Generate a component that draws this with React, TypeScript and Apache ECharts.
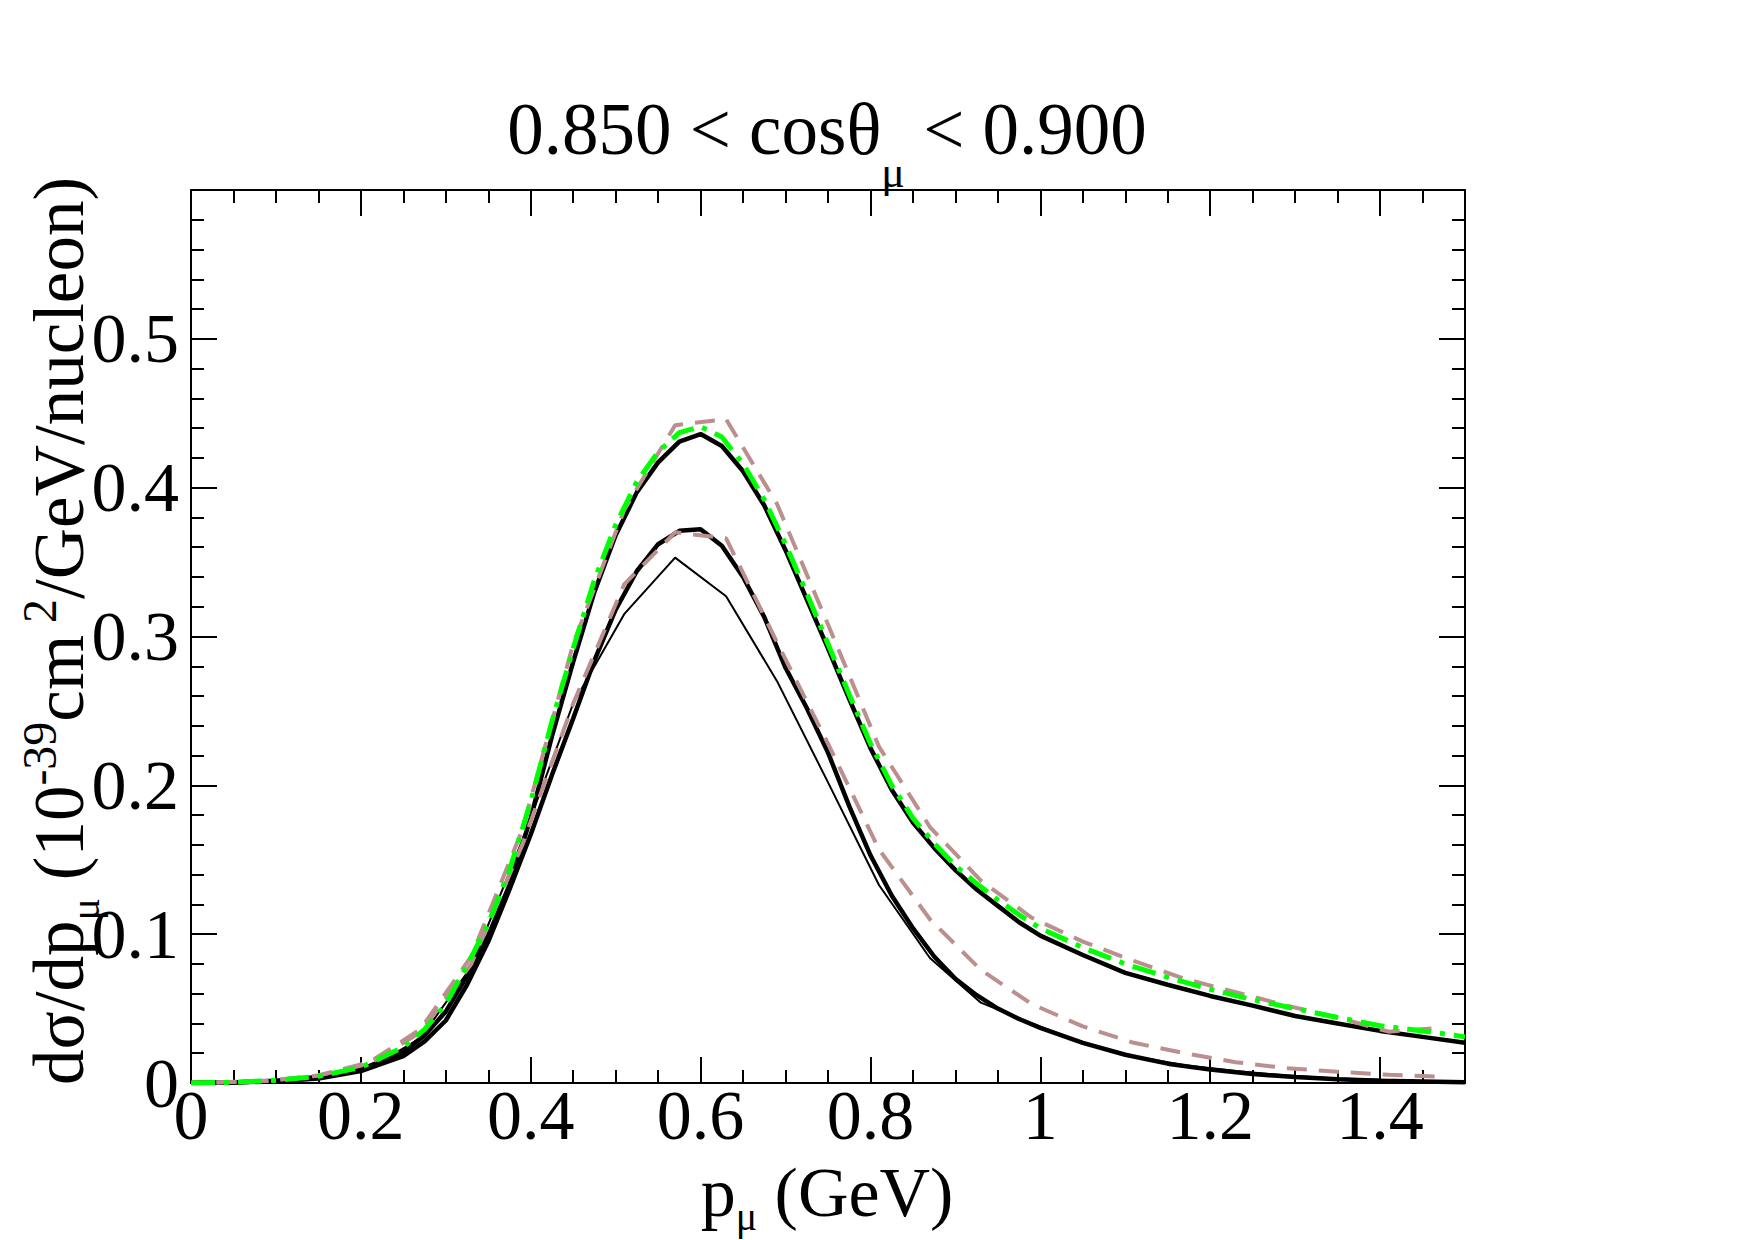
import React, { useEffect, useRef } from 'react';
import * as echarts from 'echarts';

// momentum grid (GeV) for the smooth curves
const smoothP = [0, 0.05, 0.1, 0.15, 0.2, 0.25, 0.275, 0.3, 0.325, 0.35, 0.375, 0.4, 0.425, 0.45, 0.475, 0.5, 0.525, 0.55, 0.575, 0.6, 0.625, 0.65, 0.675, 0.7, 0.725, 0.75, 0.775, 0.8, 0.825, 0.85, 0.875, 0.9, 0.925, 0.95, 0.975, 1.0, 1.05, 1.1, 1.15, 1.2, 1.25, 1.3, 1.35, 1.4, 1.45, 1.5];

const upperBlack = [0, 0.0004, 0.0015, 0.004, 0.009, 0.021, 0.032, 0.048, 0.072, 0.099, 0.133, 0.178, 0.233, 0.283, 0.33, 0.368, 0.397, 0.417, 0.431, 0.436, 0.428, 0.411, 0.388, 0.358, 0.325, 0.292, 0.258, 0.225, 0.197, 0.175, 0.158, 0.143, 0.13, 0.119, 0.108, 0.099, 0.086, 0.074, 0.066, 0.0585, 0.052, 0.045, 0.04, 0.035, 0.031, 0.027];

const lowerBlack = [0, 0.0003, 0.0012, 0.003, 0.008, 0.018, 0.028, 0.042, 0.066, 0.095, 0.13, 0.167, 0.207, 0.245, 0.284, 0.318, 0.344, 0.362, 0.371, 0.372, 0.361, 0.34, 0.313, 0.279, 0.252, 0.222, 0.186, 0.153, 0.126, 0.104, 0.085, 0.07, 0.059, 0.05, 0.043, 0.037, 0.027, 0.019, 0.013, 0.009, 0.006, 0.004, 0.0025, 0.0015, 0.001, 0.0005];

const upperGreen = [0, 0.0005, 0.0018, 0.0045, 0.0105, 0.024, 0.036, 0.053, 0.079, 0.107, 0.143, 0.189, 0.243, 0.292, 0.338, 0.375, 0.404, 0.424, 0.437, 0.441, 0.434, 0.416, 0.392, 0.362, 0.329, 0.295, 0.261, 0.228, 0.2, 0.178, 0.161, 0.146, 0.134, 0.123, 0.113, 0.104, 0.091, 0.08, 0.071, 0.063, 0.056, 0.05, 0.044, 0.0385, 0.035, 0.031];

// momentum grid (GeV) for the coarse curves
const coarseP = [0.03, 0.09, 0.15, 0.21, 0.27, 0.33, 0.39, 0.45, 0.51, 0.57, 0.63, 0.69, 0.75, 0.81, 0.87, 0.93, 0.99, 1.05, 1.11, 1.17, 1.23, 1.29, 1.35, 1.41, 1.47];

const upperBrown = [0.0003, 0.0015, 0.005, 0.014, 0.036, 0.085, 0.17, 0.295, 0.385, 0.442, 0.446, 0.389, 0.308, 0.226, 0.172, 0.136, 0.111, 0.095, 0.082, 0.07, 0.061, 0.052, 0.044, 0.0345, 0.037];

const lowerBrown = [0.0003, 0.0015, 0.005, 0.013, 0.034, 0.08, 0.16, 0.255, 0.335, 0.37, 0.366, 0.296, 0.228, 0.157, 0.11, 0.076, 0.053, 0.038, 0.027, 0.02, 0.014, 0.01, 0.0075, 0.0055, 0.0042];

const thinBlack = [0.0002, 0.001, 0.003, 0.01, 0.03, 0.078, 0.163, 0.255, 0.315, 0.353, 0.327, 0.27, 0.202, 0.133, 0.084, 0.054, 0.04, 0.027, 0.018, 0.012, 0.008, 0.005, 0.003, 0.002, 0.001];

// text pieces: [text, kind] where kind is 'm' (main), 's' (subscript), 'u' (superscript)
const titlePieces: [string, string][] = [['0.850 < cosθ', 'm'], ['μ', 's'], [' < 0.900', 'm']];
const xTitlePieces: [string, string][] = [['p', 'm'], ['μ', 's'], [' (GeV)', 'm']];
const yTitlePieces: [string, string][] = [
  ['dσ/dp', 'm'], ['μ', 's'], [' (10', 'm'], ['-39', 'u'], ['cm', 'm'], [' 2', 'u'], ['/GeV/nucleon)', 'm'],
];

const FAMILY = 'Liberation Serif';
const FONT = '"Liberation Serif", "Times New Roman", serif';
const CENTRAL = 0.3375; // distance from alphabetic baseline to central baseline, in em

const pairs = (xs: number[], ys: number[]) => xs.map((x, i) => [x, ys[i]]);
const fmt = (v: number) => String(Math.round(v * 1000) / 1000);

function makeAxis(pos: string, interval: number, tickLen: number, withLine: boolean, withLabel: boolean, isX: boolean) {
  return {
    type: 'value',
    position: pos,
    min: 0,
    max: isX ? 1.5 : 0.6,
    interval,
    axisLine: { show: withLine, onZero: false, lineStyle: { color: '#000', width: 2 } },
    axisTick: { show: true, inside: true, length: tickLen, lineStyle: { color: '#000', width: 2 } },
    axisLabel: withLabel
      ? {
          show: true,
          margin: isX ? 0 : 12,
          color: '#000',
          fontFamily: FONT,
          fontSize: 70,
          lineHeight: 64,
          showMaxLabel: false,
          formatter: fmt,
        }
      : { show: false },
    splitLine: { show: false },
    minorTick: { show: false },
  };
}

let measureCtx: CanvasRenderingContext2D | null = null;
function measure(text: string, size: number) {
  if (!measureCtx) measureCtx = document.createElement('canvas').getContext('2d');
  if (!measureCtx) return text.length * size * 0.5;
  measureCtx.font = `${size}px "${FAMILY}"`;
  return measureCtx.measureText(text).width;
}

// Build a group of text pieces laid out along a baseline (local y = 0), centred on local x = 0.
function textLine(
  pieces: [string, string][],
  sizes: { m: number; s: number; u: number },
  offsets: { s: number; u: number },
  cx: number,
  cy: number,
  rotation: number,
) {
  const widths = pieces.map(([t, k]) => measure(t, (sizes as any)[k]));
  const total = widths.reduce((a, b) => a + b, 0);
  let x = -total / 2;
  const children = pieces.map(([t, k], i) => {
    const size = (sizes as any)[k];
    const dy = k === 's' ? offsets.s : k === 'u' ? offsets.u : 0;
    const el = {
      type: 'text',
      x,
      y: dy - CENTRAL * size,
      style: {
        text: t,
        fontFamily: FONT,
        fontSize: size,
        lineHeight: Math.round(size * (k === 'm' ? 0.75 : 0.5)),
        fill: '#000',
        align: 'left',
        verticalAlign: 'middle',
      },
    };
    x += widths[i];
    return el;
  });
  return { type: 'group', x: cx, y: cy, rotation, children };
}

export default function App() {
  const ref = useRef<HTMLDivElement>(null);
  useEffect(() => {
    if (!ref.current) return;
    const chart = echarts.init(ref.current, undefined, { renderer: 'svg' });
    const line = (data: number[][], color: string, width: number, type: any) => ({
      type: 'line',
      data,
      xAxisIndex: 0,
      yAxisIndex: 0,
      symbol: 'none',
      showSymbol: false,
      smooth: false,
      clip: true,
      lineStyle: { color, width, type },
      emphasis: { disabled: true },
    });
    chart.setOption({
      animation: false,
      backgroundColor: '#fff',
      grid: { left: 191, right: 290, top: 190, bottom: 157, containLabel: false, show: false },
      xAxis: [
        makeAxis('bottom', 0.2, 26, true, true, true),
        makeAxis('bottom', 0.05, 13, false, false, true),
        makeAxis('top', 0.2, 26, true, false, true),
        makeAxis('top', 0.05, 13, false, false, true),
      ],
      yAxis: [
        makeAxis('left', 0.1, 26, true, true, false),
        makeAxis('left', 0.02, 13, false, false, false),
        makeAxis('right', 0.1, 26, true, false, false),
        makeAxis('right', 0.02, 13, false, false, false),
      ],
      series: [
        line(pairs(smoothP, upperBlack), '#000', 4.5, 'solid'),
        line(pairs(smoothP, lowerBlack), '#000', 4.5, 'solid'),
        line(pairs(coarseP, thinBlack), '#000', 2, 'solid'),
        line(pairs(coarseP, lowerBrown), '#bc8f8f', 4, [20, 12]),
        line(pairs(coarseP, upperBrown), '#bc8f8f', 4, [20, 12]),
        line(pairs(smoothP, upperGreen), '#00ff00', 5, [24, 9, 5, 9]),
      ],
      graphic: [
        textLine(titlePieces, { m: 73, s: 44, u: 44 }, { s: 33, u: -26 }, 827, 154, 0),
        textLine(xTitlePieces, { m: 70, s: 40, u: 40 }, { s: 14, u: -26 }, 827, 1216, 0),
        textLine(yTitlePieces, { m: 71, s: 42, u: 48 }, { s: 16, u: -27 }, 83, 631, Math.PI / 2),
      ],
    });
    return () => chart.dispose();
  }, []);
  return <div ref={ref} style={{ position: 'absolute', left: 0, top: 0, width: 1755, height: 1240 }} />;
}
